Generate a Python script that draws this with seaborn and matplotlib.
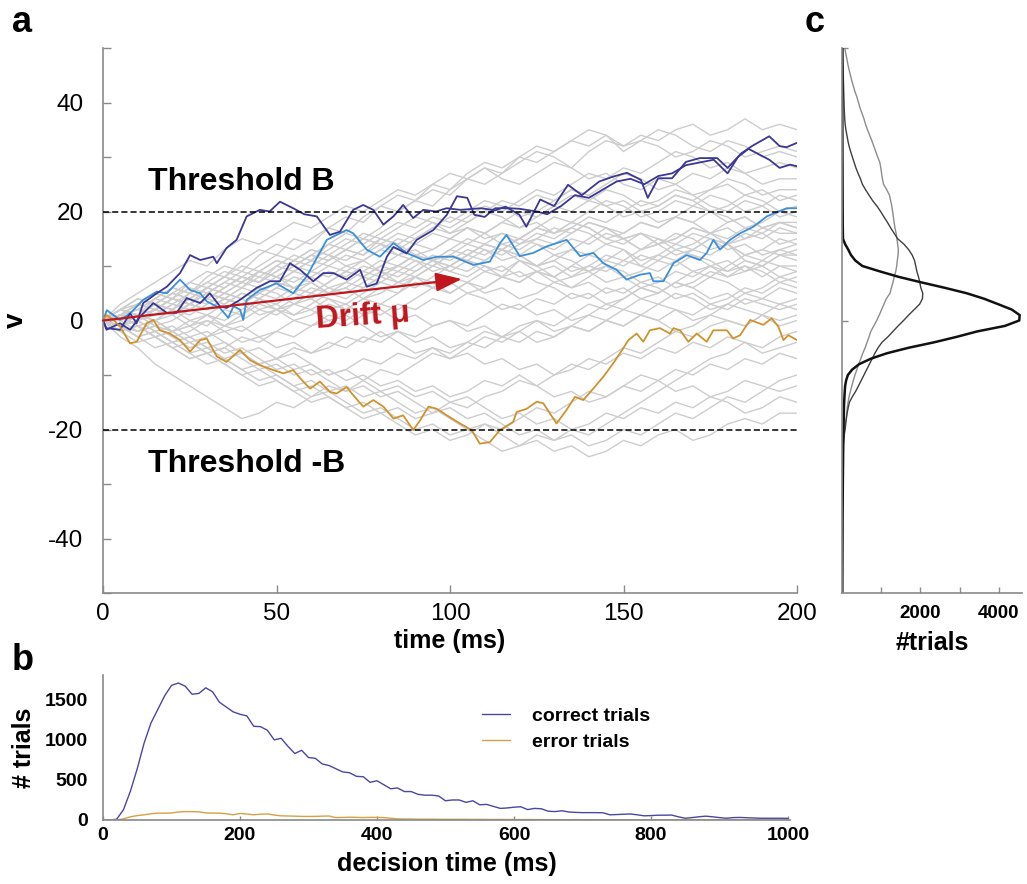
import matplotlib
matplotlib.use("Agg")
import matplotlib.pyplot as plt
import pandas as pd
import seaborn as sns

# ---------------- data ----------------
# panel a: background gray trajectories (v sampled every 5 ms)
t_grid = list(range(0, 201, 5))
g01 = [0, 2, 1, 4, 6, 5, 8, 10, 9, 12, 14, 13, 15, 17, 16, 19, 21, 20, 22, 24, 23, 26, 28, 27, 29, 31, 30, 28, 31, 33, 32, 34, 33, 35, 36, 34, 35, 37, 35, 36, 35]
g02 = [0, -1, 1, 3, 2, 5, 7, 6, 8, 7, 10, 12, 11, 14, 16, 15, 17, 20, 22, 21, 24, 26, 25, 27, 30, 29, 31, 33, 32, 34, 31, 33, 32, 30, 31, 33, 32, 30, 31, 32, 31]
g03 = [0, 1, 3, 2, 4, 3, 5, 7, 6, 9, 8, 10, 12, 11, 13, 12, 15, 14, 16, 18, 17, 19, 21, 20, 22, 24, 23, 25, 27, 26, 28, 27, 29, 31, 30, 28, 29, 27, 28, 29, 28]
g04 = [0, 2, 3, 5, 4, 6, 5, 7, 9, 8, 10, 9, 11, 13, 15, 14, 16, 18, 17, 19, 18, 20, 22, 21, 19, 20, 22, 24, 23, 25, 27, 26, 24, 25, 27, 26, 28, 27, 25, 26, 26]
g05 = [0, 3, 5, 7, 9, 11, 10, 13, 15, 14, 16, 18, 17, 19, 21, 20, 22, 24, 23, 25, 27, 26, 28, 26, 25, 27, 29, 28, 26, 27, 25, 24, 26, 25, 23, 24, 26, 25, 23, 24, 24]
g06 = [0, 1, 0, 2, 1, 3, 5, 4, 6, 8, 7, 9, 11, 10, 12, 11, 13, 15, 14, 16, 15, 17, 16, 18, 20, 19, 21, 23, 22, 24, 23, 21, 22, 24, 23, 21, 20, 22, 21, 23, 22]
g07 = [0, -1, -2, 0, 1, 3, 2, 4, 3, 5, 7, 6, 8, 10, 9, 11, 13, 12, 14, 13, 15, 17, 16, 14, 15, 17, 19, 18, 20, 22, 21, 19, 20, 22, 21, 23, 22, 20, 21, 19, 20]
g08 = [0, 2, 1, 3, 5, 4, 6, 5, 7, 6, 8, 7, 9, 8, 10, 9, 11, 10, 12, 11, 13, 15, 14, 16, 15, 17, 16, 18, 17, 15, 16, 18, 17, 19, 18, 20, 19, 17, 18, 20, 19]
g09 = [0, 1, 2, 1, 3, 2, 4, 6, 8, 7, 9, 11, 13, 12, 14, 16, 15, 17, 19, 18, 16, 17, 15, 16, 14, 15, 17, 16, 18, 17, 15, 16, 14, 15, 17, 16, 18, 19, 17, 18, 17]
g10 = [0, -1, 1, 0, -2, -1, 1, 0, 2, 4, 3, 5, 4, 6, 5, 7, 9, 8, 10, 12, 11, 13, 12, 14, 13, 15, 14, 16, 18, 17, 15, 16, 14, 15, 17, 16, 14, 15, 17, 16, 16]
g11 = [0, 1, 3, 2, 1, 3, 5, 4, 3, 5, 7, 6, 5, 7, 9, 8, 10, 12, 11, 9, 10, 12, 14, 13, 15, 17, 16, 18, 17, 15, 14, 16, 15, 13, 14, 16, 15, 17, 16, 14, 15]
g12 = [0, 0, -2, -1, -3, -2, 0, -1, 1, 3, 2, 4, 6, 5, 7, 6, 8, 10, 9, 11, 10, 12, 11, 13, 12, 10, 11, 9, 10, 12, 11, 13, 15, 14, 16, 15, 13, 14, 12, 13, 14]
g13 = [0, 2, 4, 3, 5, 7, 6, 8, 10, 9, 11, 10, 12, 14, 13, 15, 14, 12, 13, 11, 12, 14, 13, 11, 12, 10, 11, 13, 12, 14, 13, 11, 12, 14, 13, 15, 14, 12, 13, 12, 13]
g14 = [0, -1, 1, -1, -2, 0, -1, 2, 1, 4, 2, 3, 5, 4, 2, 4, 6, 5, 8, 7, 5, 7, 9, 8, 11, 10, 8, 10, 12, 11, 13, 10, 9, 11, 13, 12, 14, 11, 10, 12, 12]
g15 = [0, 1, -1, -3, -2, -4, -3, -1, -2, 0, 2, 1, 3, 5, 4, 6, 8, 7, 9, 11, 10, 12, 14, 13, 11, 9, 10, 8, 9, 11, 10, 12, 11, 13, 12, 10, 11, 9, 10, 12, 11]
g16 = [0, 2, 1, 3, 2, 4, 6, 5, 7, 9, 8, 6, 7, 5, 6, 8, 7, 9, 8, 10, 12, 11, 9, 10, 8, 9, 7, 8, 10, 9, 11, 10, 12, 11, 9, 10, 8, 9, 11, 10, 10]
g17 = [0, -2, -1, -3, -5, -4, -6, -5, -3, -4, -2, -3, -1, 0, -1, 1, 3, 2, 4, 6, 5, 7, 6, 8, 7, 9, 8, 10, 9, 7, 8, 6, 7, 9, 8, 10, 9, 11, 10, 8, 9]
g18 = [0, 1, 3, 2, 4, 3, 2, 4, 3, 1, 2, 0, 1, 3, 2, 4, 3, 5, 7, 6, 8, 7, 5, 6, 4, 5, 7, 6, 8, 10, 9, 7, 8, 6, 7, 9, 8, 10, 9, 7, 8]
g19 = [0, -1, -3, -2, -4, -3, -5, -7, -6, -8, -7, -5, -6, -4, -5, -3, -4, -2, -3, -1, 0, -1, 1, 3, 2, 4, 3, 5, 4, 6, 5, 7, 6, 4, 5, 3, 4, 6, 5, 7, 6]
g20 = [0, 2, 1, 0, 2, 4, 3, 5, 4, 2, 3, 1, 2, 4, 3, 5, 7, 6, 8, 10, 9, 11, 10, 8, 9, 7, 6, 4, 5, 3, 4, 6, 5, 7, 6, 4, 5, 3, 4, 6, 5]
g21 = [0, -1, 0, -2, -4, -3, -5, -4, -6, -8, -7, -9, -8, -10, -9, -7, -8, -6, -7, -5, -6, -4, -5, -3, -4, -2, -3, -1, -2, 0, -1, 1, 0, 2, 1, 3, 2, 4, 3, 2, 3]
g22 = [0, -2, -4, -3, -5, -7, -6, -8, -10, -9, -11, -13, -12, -14, -16, -15, -17, -16, -18, -17, -15, -16, -14, -13, -11, -12, -10, -8, -9, -7, -5, -6, -4, -2, -3, -1, 0, -1, 1, 0, 1]
g23 = [0, -1, -3, -5, -4, -6, -8, -7, -9, -11, -10, -12, -14, -13, -15, -17, -16, -18, -20, -19, -21, -20, -22, -24, -23, -21, -22, -20, -21, -19, -17, -15, -13, -11, -9, -7, -6, -4, -5, -3, -2]
g24 = [0, 1, -1, -3, -2, -4, -6, -5, -7, -9, -8, -10, -9, -11, -13, -12, -14, -13, -15, -17, -16, -18, -17, -19, -21, -20, -22, -21, -23, -22, -20, -21, -19, -17, -18, -16, -14, -15, -13, -11, -10]
g25 = [0, -1, 0, -2, -1, -3, -2, -4, -6, -5, -7, -6, -8, -10, -9, -11, -13, -12, -14, -13, -15, -14, -16, -18, -17, -19, -18, -20, -19, -17, -18, -16, -17, -15, -16, -14, -15, -17, -16, -14, -15]
g26 = [0, -3, -5, -8, -10, -12, -14, -16, -18, -17, -15, -16, -14, -12, -13, -11, -9, -10, -8, -6, -7, -5, -3, -4, -2, 0, -1, 1, 3, 2, 4, 6, 5, 7, 9, 8, 10, 12, 11, 13, 12]
g27 = [0, 1, 2, 4, 3, 5, 4, 6, 8, 7, 9, 11, 10, 12, 11, 13, 15, 14, 12, 13, 15, 14, 16, 18, 17, 19, 21, 20, 22, 21, 19, 20, 18, 19, 21, 20, 18, 19, 17, 18, 18]
g28 = [0, 0, 1, -1, 0, 2, 1, 3, 5, 4, 6, 5, 7, 9, 8, 10, 9, 7, 8, 6, 7, 5, 6, 8, 7, 9, 8, 6, 7, 5, 6, 4, 5, 7, 6, 8, 7, 5, 6, 8, 7]
g29 = [0, -1, 1, 2, 4, 3, 6, 8, 7, 9, 8, 10, 9, 11, 13, 12, 14, 13, 15, 17, 16, 18, 20, 19, 17, 18, 16, 17, 19, 18, 20, 22, 21, 23, 22, 20, 21, 23, 22, 20, 21]
g30 = [0, 1, 0, 2, 1, -1, 0, -2, -1, -3, -2, 0, -1, 1, 0, 2, 1, 3, 2, 4, 3, 5, 4, 2, 3, 1, 2, 0, 1, 3, 2, 4, 3, 5, 4, 2, 3, 5, 4, 3, 4]
g31 = [0, -2, -1, -3, -5, -7, -6, -8, -10, -12, -11, -13, -15, -14, -16, -18, -17, -19, -21, -20, -22, -21, -19, -20, -18, -16, -17, -15, -13, -14, -12, -10, -11, -9, -10, -8, -9, -7, -8, -6, -7]
g32 = [0, 1, 0, 1, 3, 2, 4, 3, 5, 4, 6, 8, 7, 5, 6, 4, 5, 7, 6, 8, 10, 9, 11, 13, 12, 14, 13, 15, 14, 16, 15, 13, 14, 12, 13, 15, 14, 16, 15, 17, 16]
g33 = [0, -1, -2, -1, -3, -5, -4, -6, -5, -7, -9, -8, -10, -9, -11, -10, -12, -11, -13, -12, -14, -13, -11, -12, -10, -12, -14, -13, -15, -14, -12, -13, -11, -13, -12, -14, -13, -11, -12, -13, -12]
g34 = [0, 1, -1, 0, -2, -1, -3, -2, -4, -3, -5, -4, -6, -5, -3, -4, -2, -4, -6, -5, -7, -6, -8, -7, -9, -8, -10, -9, -7, -8, -6, -7, -5, -6, -4, -5, -3, -4, -6, -5, -4]
g35 = [0, -1, -3, -2, -4, -6, -5, -7, -9, -8, -10, -12, -11, -13, -12, -14, -13, -15, -17, -16, -18, -20, -19, -21, -23, -22, -24, -23, -25, -24, -22, -23, -21, -20, -22, -21, -19, -18, -19, -17, -17]
g36 = [0, 2, 1, 3, 2, 0, 1, -1, 0, 2, 1, 3, 2, 0, 1, -1, -3, -2, -4, -3, -5, -4, -2, -3, -1, 0, -2, -1, 1, 0, 2, 1, 3, 2, 0, 1, 3, 2, 1, 3, 2]
g37 = [0, 1, 2, 4, 6, 5, 7, 9, 8, 10, 12, 11, 13, 12, 10, 11, 9, 10, 12, 11, 9, 8, 10, 9, 11, 10, 12, 11, 9, 10, 8, 9, 11, 10, 12, 11, 9, 10, 8, 10, 9]
g38 = [0, -1, 0, 2, 1, 3, 2, 4, 3, 5, 4, 6, 5, 7, 9, 8, 10, 9, 11, 10, 12, 11, 13, 12, 14, 16, 15, 17, 16, 14, 15, 13, 14, 16, 15, 13, 14, 12, 13, 15, 14]
g39 = [0, 2, 4, 3, 5, 4, 6, 8, 7, 9, 11, 10, 12, 11, 13, 15, 14, 16, 15, 17, 19, 18, 20, 22, 21, 23, 22, 24, 23, 21, 22, 20, 21, 23, 22, 24, 25, 23, 24, 22, 23]
g40 = [0, 1, 0, 2, 4, 3, 5, 4, 6, 5, 7, 9, 8, 6, 7, 9, 8, 10, 12, 11, 13, 12, 14, 13, 15, 14, 12, 13, 15, 17, 16, 18, 17, 19, 18, 16, 17, 15, 16, 18, 17]
g41 = [0, -1, 1, 0, 2, 1, 3, 5, 4, 6, 5, 3, 4, 2, 3, 1, 2, 0, 1, -1, 0, -2, -1, -3, -2, -4, -3, -1, -2, 0, -1, 1, 0, -2, -1, 1, 0, -1, 1, -1, 0]
g42 = [0, 1, 3, 5, 4, 7, 9, 8, 11, 13, 12, 15, 14, 17, 19, 18, 21, 23, 22, 25, 24, 27, 29, 28, 30, 32, 31, 33, 35, 34, 32, 33, 35, 34, 32, 31, 33, 32, 30, 31, 30]
gray_traces = [g01, g02, g03, g04, g05, g06, g07, g08, g09, g10, g11, g12, g13, g14,
               g15, g16, g17, g18, g19, g20, g21, g22, g23, g24, g25, g26, g27, g28,
               g29, g30, g31, g32, g33, g34, g35, g36, g37, g38, g39, g40, g41, g42]

# panel a: highlighted trajectories
blueA_t = [0, 1, 4.9, 7.8, 9.7, 11.6, 15.5, 18.4, 22.2, 25.1, 28, 31.8, 32.8, 35.6, 38.5, 41.4, 45.2, 48, 51, 54.8,
           58, 61.6, 65.4, 68.3, 72.1, 75, 77.9, 80.8, 83.7, 86.5, 89.4, 92.3, 96, 99, 103, 109, 113, 116, 120, 122,
           126, 130, 134, 138, 143, 147, 151, 155, 157, 160, 164, 168, 172, 177, 180, 184, 187, 192, 195, 197, 200]
blueA_v = [0, -1.4, -1.7, 1.3, -0.5, 3.2, 5.0, 6.2, 8.7, 12.0, 11.1, 11.7, 10.5, 13.3, 14.8, 19.1, 20.3, 20.0, 21.8, 20.6,
           19.5, 19.1, 15.7, 16.3, 20.3, 21.2, 20.3, 17.6, 19.1, 21.2, 18.8, 20.3, 20.0, 20.6, 20.3, 20.6, 20.2, 20.9, 19.4, 17.2,
           22.2, 21.0, 24.9, 23.0, 25.5, 26.4, 27.1, 25.8, 22.5, 26.1, 26.1, 29.1, 29.8, 29.8, 28.0, 30.7, 32.0, 33.8, 32.0, 31.8, 32.6]
blueB_t = [0, 1, 4.9, 7.8, 10.7, 14.5, 18.4, 21.2, 24.1, 28, 30.8, 33.7, 35.6, 39.5, 44.3, 48.1, 51, 53.9, 56.8, 60.6,
           63.5, 66.4, 70.2, 74.1, 76, 78.9, 81.8, 83.7, 87.5, 90.4, 95.2, 99.1, 102, 105, 107, 110, 113, 117, 120, 125,
           128, 132, 136, 140, 144, 148, 152, 156, 160, 164, 168, 172, 176, 180, 183, 186, 189, 192, 195, 198, 200]
blueB_v = [0, -1.7, -0.5, -1.7, 0.7, 3.2, 1.4, 1.4, 4.1, 3.2, 5.0, 2.6, 2.3, 3.8, 6.0, 7.2, 7.2, 10.5, 9.3, 7.2,
           8.7, 8.7, 7.5, 9.3, 6.2, 6.8, 11.7, 13.5, 12.3, 14.8, 16.6, 19.4, 22.8, 22.5, 19.4, 19.0, 20.6, 20.6, 20.5, 20.0,
           19.5, 21.0, 23.0, 22.5, 24.0, 25.5, 26.0, 25.0, 26.5, 27.0, 28.5, 29.0, 29.5, 27.0, 30.0, 31.5, 30.5, 29.5, 28.0, 28.6, 28.3]
lblue_t = [0, 1.1, 4.9, 7.8, 11.6, 15.5, 18.4, 22.2, 25.1, 28, 29.9, 33.7, 36.1, 37.6, 39.5, 40.4, 41.4, 45.2, 50, 54.8,
           58.7, 64.5, 70.2, 72.1, 76, 79.8, 83.7, 87.5, 92.3, 96.2, 101, 106.7, 111.5, 114.4, 116.3, 120.1, 124, 127.9, 133.6, 137.5,
           141.3, 144.2, 148, 150.9, 154.7, 157.6, 158.6, 161.5, 164.4, 168.2, 172, 174, 175.9, 177.8, 180.7, 183.6, 187.4, 191.3, 197, 200]
lblue_v = [0, 1.9, 0.1, 1.3, 3.8, 5.3, 5.0, 7.5, 5.6, 5.0, 3.5, 2.3, 0.5, 2.6, 2.0, 0.1, 3.8, 5.6, 6.8, 5.0,
           8.1, 14.8, 16.6, 16.0, 13.0, 11.7, 14.2, 12.4, 11.1, 11.7, 11.7, 10.2, 10.8, 14.2, 15.7, 11.8, 12.4, 13.6, 14.8, 11.8,
           12.4, 10.5, 9.3, 7.5, 8.4, 8.7, 7.2, 7.2, 10.5, 12.0, 11.1, 12.4, 14.8, 13.0, 14.8, 16.0, 17.2, 19.1, 20.6, 20.6]
orange_t = [0, 1, 3, 4.9, 7.8, 9.7, 12.6, 14.5, 16.4, 19.3, 22.2, 25.1, 28, 29.9, 32.8, 35.6, 39.5, 42.4, 45.2, 49.1,
            52, 54.8, 57.7, 59.7, 62.5, 65.4, 67.3, 70.2, 72.1, 75, 77.9, 80.8, 83.7, 86.5, 89.4, 91.4, 93.8, 96.2, 99.1, 102.9,
            106.2, 108.6, 111.5, 114.4, 118.2, 119.2, 122.1, 125, 126.9, 130.7, 133.6, 136, 138.4, 141.3, 144.2, 147, 149, 151.4, 153.8, 155.7,
            157.6, 160.5, 163.4, 164.4, 166.3, 168.7, 171.1, 174, 175.9, 179.8, 181.6, 183.6, 186.5, 190.3, 192.7, 194.6, 196.1, 197.5, 200]
orange_v = [0, 1.0, 0.1, -1.1, -4.2, -3.9, -0.5, 0.1, -1.8, -2.4, -3.6, -5.7, -3.6, -3.3, -6.6, -7.6, -5.4, -7.3, -8.2, -9.1,
            -9.7, -9.1, -11.2, -12.5, -11.2, -13.1, -13.4, -12.2, -13.7, -15.8, -14.6, -15.8, -18.0, -17.4, -20.1, -18.3, -15.8, -16.2, -17.4, -18.9,
            -20.1, -22.6, -22.3, -20.1, -18.6, -16.8, -16.2, -14.9, -15.2, -18.9, -16.4, -14.0, -14.6, -12.5, -10.3, -7.9, -6.0, -3.6, -2.4, -3.9,
            -1.8, -1.4, -2.4, -1.4, -1.8, -3.9, -2.4, -3.9, -1.8, -1.8, -3.3, -2.7, 0.1, -0.8, 0.4, -1.1, -3.6, -2.7, -3.6]
threshold = 20
drift_t = [0, 103.4]
drift_v = [0, 7.6]

# panel b: decision-time histograms (10 ms bins)
dt_bins = list(range(0, 1001, 10))
correct_counts = [0, 0, 10, 130, 360, 640, 960, 1210, 1380, 1550,
                  1680, 1710, 1670, 1570, 1580, 1650, 1600, 1470, 1410, 1350,
                  1320, 1300, 1170, 1165, 1120, 1000, 1020, 920, 830, 870,
                  780, 770, 700, 680, 640, 600, 590, 545, 540, 470,
                  490, 440, 390, 400, 355, 355, 320, 310, 310, 300,
                  240, 250, 250, 220, 240, 190, 195, 170, 145, 150,
                  160, 165, 130, 145, 140, 110, 105, 115, 100, 95,
                  92, 92, 92, 90, 65, 68, 72, 75, 65, 52,
                  55, 60, 60, 62, 40, 22, 30, 40, 48, 40,
                  30, 22, 30, 32, 28, 25, 22, 22, 22, 22, 20]
error_counts = [0, 0, 0, 15, 40, 55, 65, 78, 85, 85,
                88, 100, 105, 104, 102, 88, 86, 85, 78, 65,
                82, 75, 65, 72, 76, 62, 52, 50, 48, 45,
                44, 45, 48, 50, 30, 32, 35, 33, 30, 33,
                32, 30, 22, 14, 12, 12, 10, 10, 10, 9,
                9, 8, 9, 8, 7, 8, 7, 6, 7, 6,
                6, 5, 6, 5, 5, 4, 5, 4, 4, 5,
                4, 3, 4, 3, 3, 4, 3, 3, 2, 3,
                3, 2, 3, 2, 2, 3, 2, 2, 1, 2,
                2, 1, 2, 1, 1, 2, 1, 1, 1, 1, 1]

# panel c: distributions of v (v = -50 .. 50)
v_grid = list(range(-50, 51))
hist_early = [8, 8, 9, 9, 10, 10, 11, 11, 12, 12,
              13, 13, 14, 14, 15, 16, 17, 18, 19, 20,
              21, 22, 24, 25, 27, 28, 30, 32, 34, 36,
              38, 41, 44, 47, 50, 55, 62, 70, 80, 105,
              150, 260, 440, 740, 1150, 1700, 2350, 2925, 3450, 4150,
              4520, 4530, 4330, 3980, 3620, 3180, 2620, 2020, 1450, 970,
              520, 340, 230, 160, 80, 25, 22, 20, 18, 18,
              17, 16, 16, 15, 15, 14, 14, 13, 13, 12,
              12, 11, 11, 10, 10, 9, 9, 9, 8, 8,
              8, 7, 7, 7, 6, 6, 6, 5, 5, 5, 5]
hist_mid = [3, 3, 4, 4, 4, 5, 5, 5, 6, 6,
            6, 7, 7, 8, 8, 9, 9, 10, 11, 12,
            13, 14, 15, 17, 18, 20, 25, 30, 42, 56,
            80, 95, 112, 130, 158, 190, 262, 348, 420, 490,
            560, 630, 700, 770, 840, 920, 1020, 1170, 1300, 1430,
            1570, 1700, 1840, 1980, 2050, 2060, 2010, 1985, 1950, 1910,
            1880, 1850, 1790, 1700, 1580, 1420, 1330, 1240, 1160, 1070,
            985, 890, 780, 690, 600, 520, 470, 410, 355, 310,
            265, 220, 180, 150, 125, 100, 80, 70, 62, 56,
            52, 48, 44, 40, 36, 33, 30, 28, 25, 22, 20]
hist_late = [2, 2, 3, 3, 3, 4, 4, 4, 5, 5,
             5, 6, 6, 6, 7, 7, 8, 8, 9, 10,
             10, 11, 12, 13, 14, 16, 18, 22, 30, 40,
             65, 80, 105, 120, 135, 155, 180, 215, 250, 290,
             330, 380, 425, 480, 530, 590, 640, 690, 735, 810,
             885, 950, 1010, 1070, 1130, 1224, 1260, 1300, 1330, 1370,
             1395, 1410, 1430, 1437, 1420, 1400, 1380, 1350, 1330, 1310,
             1290, 1270, 1240, 1210, 1140, 1060, 1030, 1010, 990, 965,
             910, 860, 810, 760, 705, 650, 600, 560, 510, 460,
             420, 380, 330, 290, 250, 215, 180, 150, 125, 95, 70]

# ---------------- style ----------------
sns.set_theme(style="ticks")
plt.rcParams["font.family"] = ["Liberation Sans", "DejaVu Sans"]
plt.rcParams.update({"text.color": "black", "axes.labelcolor": "black",
                     "xtick.color": "black", "ytick.color": "black"})

C_DARK = "#3b3794"
C_LIGHT = "#3b8ed8"
C_ORANGE = "#cf922e"
C_GRAY = "#cdcdcd"
C_RED = "#c0161d"
C_SPINE = "#8a8a8a"

W, H = 1027, 884
fig = plt.figure(figsize=(W / 100, H / 100), dpi=100)


def ax_at(l, t, r, b):
    return fig.add_axes([l / W, 1 - b / H, (r - l) / W, (b - t) / H])


axA = ax_at(103, 48, 797, 593)
axB = ax_at(103, 675, 790, 820)
axC = ax_at(842, 48, 1022, 593)

for ax in (axA, axB, axC):
    for s in ("top", "right"):
        ax.spines[s].set_visible(False)
    for s in ("left", "bottom"):
        ax.spines[s].set_color(C_SPINE)
        ax.spines[s].set_linewidth(1.2)

# ---------------- panel a ----------------
rows = []
for i, tr in enumerate(gray_traces):
    for t, v in zip(t_grid, tr):
        rows.append({"t": t, "v": v, "trace": i})
df_gray = pd.DataFrame(rows)
sns.lineplot(data=df_gray, x="t", y="v", units="trace", estimator=None,
             color=C_GRAY, lw=1.0, ax=axA, legend=False)

sns.lineplot(x=lblue_t, y=lblue_v, estimator=None, color=C_LIGHT, lw=1.3, ax=axA)
sns.lineplot(x=blueB_t, y=blueB_v, estimator=None, color=C_DARK, lw=1.3, ax=axA)
sns.lineplot(x=blueA_t, y=blueA_v, estimator=None, color=C_DARK, lw=1.3, ax=axA)
sns.lineplot(x=orange_t, y=orange_v, estimator=None, color=C_ORANGE, lw=1.3, ax=axA)

axA.axhline(threshold, color="black", lw=1.1, ls=(0, (4, 2)), zorder=5)
axA.axhline(-threshold, color="black", lw=1.1, ls=(0, (4, 2)), zorder=5)

axA.annotate("", xy=(drift_t[1], drift_v[1]), xytext=(drift_t[0], drift_v[0]),
             arrowprops=dict(arrowstyle="-|>,head_length=0.55,head_width=0.2",
                             color=C_RED, lw=1.6, mutation_scale=29,
                             shrinkA=0, shrinkB=0), zorder=6)

axA.text(13, 23.9, "Threshold B", fontsize=23, fontweight="bold", ha="left", va="baseline")
axA.text(13, -27.8, "Threshold -B", fontsize=23, fontweight="bold", ha="left", va="baseline")
axA.text(61.6, -1.4, "Drift μ", fontsize=23, fontweight="bold", color=C_RED,
         ha="left", va="baseline", rotation=4, rotation_mode="anchor", zorder=7)

axA.set_xlim(0, 200)
axA.set_ylim(-50, 50)
axA.set_xticks([0, 50, 100, 150, 200])
axA.set_yticks(list(range(-50, 51, 10)))
axA.set_yticklabels(["", "-40", "", "-20", "", "0", "", "20", "", "40", ""])
axA.tick_params(axis="both", direction="in", length=6, width=1.0, color=C_SPINE,
                labelsize=17.5, labelcolor="black")
axA.tick_params(axis="y", pad=14)
axA.tick_params(axis="x", pad=7)
axA.set_xlabel("time (ms)", fontsize=18, fontweight="bold", labelpad=3)
axA.set_ylabel("v", fontsize=20, fontweight="bold", labelpad=14)

# ---------------- panel b ----------------
sns.lineplot(x=dt_bins, y=correct_counts, estimator=None, color="#4a46a6", lw=1.0,
             ax=axB, label="correct trials")
sns.lineplot(x=dt_bins, y=error_counts, estimator=None, color="#d6a043", lw=1.0,
             ax=axB, label="error trials")
axB.set_xlim(0, 1003)
axB.set_ylim(0, 1810)
axB.set_xticks([0, 200, 400, 600, 800, 1000])
axB.set_yticks([0, 500, 1000, 1500])
axB.tick_params(axis="x", direction="in", length=3, width=1.0, color=C_SPINE,
                labelsize=14, pad=5, labelcolor="black")
axB.tick_params(axis="y", length=0, labelsize=14, pad=11, labelcolor="black")
for lab in axB.get_xticklabels() + axB.get_yticklabels():
    lab.set_fontweight("bold")
axB.set_xlabel("decision time (ms)", fontsize=18, fontweight="bold", labelpad=6)
axB.set_ylabel("# trials", fontsize=18, fontweight="bold", labelpad=6)
leg = axB.legend(loc="upper left", bbox_to_anchor=(0.552, 0.775), frameon=False,
                 prop={"weight": "bold", "size": 14}, handlelength=1.45,
                 handletextpad=1.1, labelspacing=0.4, borderpad=0, borderaxespad=0)
for txt in leg.get_texts():
    txt.set_color("black")

# ---------------- panel c ----------------
sns.lineplot(x=hist_late, y=v_grid, orient="y", estimator=None, color="#8c8c8c", lw=1.0, ax=axC)
sns.lineplot(x=hist_mid, y=v_grid, orient="y", estimator=None, color="#3f3f3f", lw=1.0, ax=axC)
sns.lineplot(x=hist_early, y=v_grid, orient="y", estimator=None, color="#111111", lw=1.8, ax=axC)
axC.set_xlim(0, 4590)
axC.set_ylim(-50, 50)
axC.set_xticks([1000, 2000, 3000, 4000])
axC.set_xticklabels(["", "2000", "", "4000"])
axC.set_yticks([0, 50])
axC.set_yticklabels(["", ""])
axC.tick_params(axis="both", direction="in", length=4, width=1.0, color=C_SPINE,
                labelsize=13.5, pad=9, labelcolor="black")
for lab in axC.get_xticklabels():
    lab.set_fontweight("bold")
axC.set_xlabel("#trials", fontsize=18, fontweight="bold", labelpad=6)
axC.set_ylabel("")

# ---------------- panel letters ----------------
fig.text(12 / W, 1 - 32 / H, "a", fontsize=26, fontweight="bold", ha="left", va="baseline")
fig.text(12 / W, 1 - 670 / H, "b", fontsize=26, fontweight="bold", ha="left", va="baseline")
fig.text(805 / W, 1 - 32 / H, "c", fontsize=26, fontweight="bold", ha="left", va="baseline")

fig.savefig("out.png", dpi=100)
